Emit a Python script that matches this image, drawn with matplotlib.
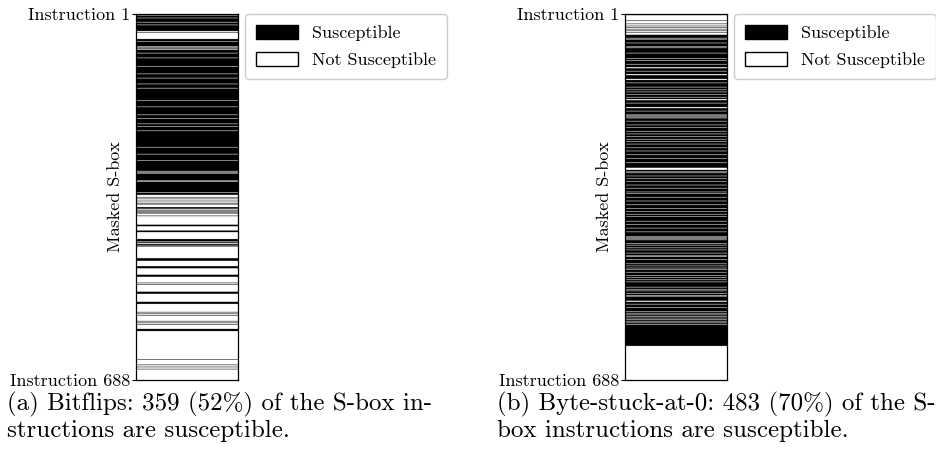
import numpy as np
import matplotlib.pyplot as plt
from matplotlib.patches import Patch

plt.rcParams['font.family'] = ['cmr10', 'DejaVu Serif']
plt.rcParams['mathtext.fontset'] = 'cm'
plt.rcParams['axes.unicode_minus'] = False

n_instr = 688

# Bitflips: instruction ranges (1-based, inclusive) that are susceptible
bitflip_runs = [
    (1, 2), (4, 7), (9, 15), (17, 20), (22, 32), (35, 35),
    (48, 51), (53, 61), (64, 65), (68, 73), (75, 82), (84, 98),
    (100, 112), (114, 120), (122, 131), (133, 139), (141, 162), (164, 174),
    (176, 189), (191, 196), (198, 206), (208, 211), (213, 219), (221, 250),
    (252, 263), (265, 275), (277, 295), (297, 297), (299, 299), (301, 313),
    (316, 335), (337, 340), (345, 345), (348, 348), (352, 352), (356, 356),
    (358, 358), (364, 366), (369, 369), (371, 371), (373, 373), (375, 375),
    (380, 380), (397, 399), (408, 410), (424, 427), (429, 430), (433, 434),
    (436, 437), (460, 464), (475, 478), (491, 494), (506, 506), (509, 509),
    (523, 526), (542, 545), (561, 561), (564, 564), (567, 567), (578, 578),
    (581, 581), (584, 584), (593, 596), (650, 650), (660, 660), (664, 664),
    (668, 668),
]

# Byte-stuck-at-0: instruction ranges (1-based, inclusive) that are NOT susceptible
stuck_gaps = [
    (1, 1), (3, 12), (14, 18), (20, 22), (24, 25), (27, 28), (30, 31),
    (33, 34), (36, 39), (46, 46), (48, 48), (55, 55), (62, 62), (64, 64),
    (74, 74), (84, 84), (88, 88), (95, 95), (101, 102), (108, 108),
    (114, 115), (123, 124), (130, 130), (138, 138), (143, 143), (147, 147),
    (152, 152), (157, 157), (161, 162), (168, 168), (176, 177), (183, 183),
    (190, 190), (192, 192), (194, 194), (196, 196), (202, 202), (209, 209),
    (214, 214), (221, 221), (226, 226), (231, 231), (236, 236), (240, 240),
    (245, 245), (252, 252), (258, 258), (265, 265), (272, 272), (280, 280),
    (290, 293), (297, 297), (299, 299), (305, 305), (310, 310), (315, 315),
    (322, 322), (328, 328), (335, 335), (338, 338), (345, 345), (352, 352),
    (359, 359), (366, 366), (372, 372), (377, 377), (381, 381), (390, 390),
    (396, 396), (403, 403), (410, 410), (419, 419), (421, 421), (423, 423),
    (425, 425), (432, 432), (435, 435), (440, 440), (444, 444), (450, 450),
    (455, 456), (462, 462), (470, 470), (474, 474), (478, 478), (481, 481),
    (486, 486), (492, 492), (496, 496), (500, 500), (504, 504), (514, 514),
    (518, 518), (521, 521), (526, 526), (530, 531), (540, 541), (546, 546),
    (552, 552), (560, 560), (563, 563), (566, 566), (569, 569), (572, 572),
    (575, 575), (578, 578), (581, 581), (584, 584), (625, 688),
]

captions = [
    "(a) Bitflips: 359 (52%) of the S-box in-\nstructions are susceptible.",
    "(b) Byte-stuck-at-0: 483 (70%) of the S-\nbox instructions are susceptible.",
]

# build per-instruction masks (1 = susceptible)
mask_a = np.zeros(n_instr)
for s, e in bitflip_runs:
    mask_a[s - 1:e] = 1
mask_b = np.ones(n_instr)
for s, e in stuck_gaps:
    mask_b[s - 1:e] = 0

fig = plt.figure(figsize=(9.36, 4.58), dpi=100)
W, H = 936, 458
panels = [(136, mask_a, 7), (625, mask_b, 497)]

for (left, mask, cap_x), cap in zip(panels, captions):
    ax = fig.add_axes([left / W, 1 - 380 / H, 102 / W, 366 / H])
    ax.imshow(mask[:, None], cmap='gray_r', vmin=0, vmax=1, aspect='auto',
              extent=(0, 1, n_instr + 0.5, 0.5))
    ax.set_xticks([])
    ax.set_yticks([1, n_instr])
    ax.set_yticklabels(["Instruction 1", "Instruction 688"], fontsize=13)
    ax.tick_params(axis='y', length=3, width=0.8, pad=1)
    ax.set_ylabel("Masked S-box", fontsize=13)
    ax.yaxis.set_label_coords(-0.13, 0.5)
    for sp in ax.spines.values():
        sp.set_linewidth(0.9)
    handles = [Patch(facecolor='black', edgecolor='black', label='Susceptible'),
               Patch(facecolor='white', edgecolor='black', label='Not Susceptible')]
    ax.legend(handles=handles, loc='upper left', bbox_to_anchor=(1.07, 1.0),
              borderaxespad=0, fontsize=13, handlelength=2.3, handleheight=0.8,
              labelspacing=0.6, borderpad=0.6,
              frameon=True, edgecolor='#cccccc', framealpha=1)
    fig.text(cap_x / W, 1 - 392 / H, cap, fontsize=18, va='top', ha='left',
             linespacing=1.18)

fig.savefig("out.png", dpi=100)
